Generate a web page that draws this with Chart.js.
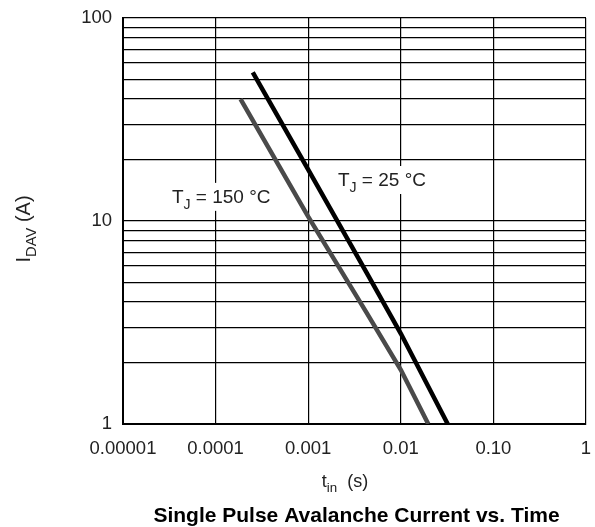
<!DOCTYPE html>
<html>
<head>
<meta charset="utf-8">
<script src="https://cdn.jsdelivr.net/npm/chart.js@4.4.0/dist/chart.umd.min.js"></script>
<style>
  html, body { margin: 0; padding: 0; background: #fff; }
  #wrap { width: 595px; height: 527px; position: relative; }
</style>
</head>
<body>
<div id="wrap"><canvas id="chart"></canvas></div>
<script>
// axis ticks
const xTicks = [0.00001, 0.0001, 0.001, 0.01, 0.1, 1];
const xTickLabels = ["0.00001", "0.0001", "0.001", "0.01", "0.10", "1"];
const yGrid = [1, 2, 3, 4, 5, 6, 7, 8, 9, 10, 20, 30, 40, 50, 60, 70, 80, 90, 100];
const yTickLabels = { 1: "1", 10: "10", 100: "100" };

// curves (t in s, I in A)
const tin25 = [0.000252, 0.001, 0.00433, 0.01, 0.0321];
const idav25 = [54, 17.9, 5.5, 2.79, 1.0];
const tin150 = [0.000186, 0.001, 0.00433, 0.01, 0.0198];
const idav150 = [39.8, 10.5, 3.5, 1.85, 1.0];

// curve labels, placed in data units
const curveLabels = [
  { x: 0.00626, y: 16.1, main: "T", sub: "J", rest: " = 25 °C" },
  { x: 0.000115, y: 13.3, main: "T", sub: "J", rest: " = 150 °C" }
];

const FONT = '"Liberation Sans", Arial, Helvetica, sans-serif';
const TXT = '#222';
const SUB = 0.74;

function subWidth(ctx, main, sub, rest, size) {
  ctx.font = size + 'px ' + FONT;
  const w1 = ctx.measureText(main).width, w3 = ctx.measureText(rest).width;
  ctx.font = (size * SUB) + 'px ' + FONT;
  const w2 = ctx.measureText(sub).width;
  return w1 + w2 + w3;
}
// main text + subscript + rest, from x on baseline y
function drawSub(ctx, main, sub, rest, x, y, size) {
  ctx.textAlign = 'left';
  ctx.textBaseline = 'alphabetic';
  ctx.font = size + 'px ' + FONT;
  ctx.fillText(main, x, y);
  x += ctx.measureText(main).width;
  ctx.font = (size * SUB) + 'px ' + FONT;
  ctx.fillText(sub, x, y + size * 0.3);
  x += ctx.measureText(sub).width;
  ctx.font = size + 'px ' + FONT;
  ctx.fillText(rest, x, y);
}

const textPlugin = {
  id: 'texts',
  beforeDatasetsDraw(chart) {
    const ctx = chart.ctx, xs = chart.scales.x, ys = chart.scales.y;
    ctx.save();
    curveLabels.forEach(l => {
      const size = 19;
      const w = subWidth(ctx, l.main, l.sub, l.rest, size);
      const cx = xs.getPixelForValue(l.x), cy = ys.getPixelForValue(l.y);
      ctx.fillStyle = '#fff';
      ctx.fillRect(cx - w / 2 - 3, cy - 13, w + 6, 28);
      ctx.fillStyle = TXT;
      drawSub(ctx, l.main, l.sub, l.rest, cx - w / 2, cy + 7, size);
    });
    ctx.restore();
  },
  afterDraw(chart) {
    const ctx = chart.ctx, a = chart.chartArea;
    ctx.save();
    ctx.fillStyle = TXT;
    // x axis title
    let w = subWidth(ctx, 't', 'in', '  (s)', 18);
    drawSub(ctx, 't', 'in', '  (s)', 345 - w / 2, 487, 18);
    // y axis title, rotated
    ctx.save();
    ctx.translate(30, 229);
    ctx.rotate(-Math.PI / 2);
    w = subWidth(ctx, 'I', 'DAV', ' (A)', 20);
    drawSub(ctx, 'I', 'DAV', ' (A)', -w / 2, 0, 20);
    ctx.restore();
    // chart title
    ctx.fillStyle = '#000';
    ctx.font = 'bold 21px ' + FONT;
    ctx.textAlign = 'center';
    ctx.textBaseline = 'alphabetic';
    ctx.fillText('Single Pulse Avalanche Current vs. Time', (a.left + a.right) / 2 + 2, 522);
    ctx.restore();
  }
};

new Chart(document.getElementById('chart'), {
  type: 'line',
  data: {
    datasets: [
      {
        label: 'TJ = 25 °C',
        data: tin25.map((t, i) => ({ x: t, y: idav25[i] })),
        borderColor: '#000',
        borderWidth: 4.5,
        pointRadius: 0,
        tension: 0
      },
      {
        label: 'TJ = 150 °C',
        data: tin150.map((t, i) => ({ x: t, y: idav150[i] })),
        borderColor: '#4a4a4a',
        borderWidth: 4.5,
        pointRadius: 0,
        tension: 0
      }
    ]
  },
  options: {
    responsive: true,
    maintainAspectRatio: false,
    animation: false,
    layout: { padding: { top: 18, right: 9, left: 0, bottom: 0 } },
    plugins: { legend: { display: false }, tooltip: { enabled: false } },
    scales: {
      x: {
        type: 'logarithmic',
        min: 0.00001,
        max: 1,
        afterBuildTicks: s => { s.ticks = xTicks.map(v => ({ value: v })); },
        afterFit: s => { s.height = 103; s.paddingLeft = 0; s.paddingRight = 0; },
        grid: { color: '#000', lineWidth: 1.2, drawTicks: false },
        border: { color: '#000', width: 2 },
        ticks: {
          autoSkip: false, maxRotation: 0, padding: 14, color: TXT,
          font: { family: FONT, size: 18.5 },
          callback: (v, i) => xTickLabels[i]
        }
      },
      y: {
        type: 'logarithmic',
        min: 1,
        max: 100,
        afterBuildTicks: s => { s.ticks = yGrid.map(v => ({ value: v })); },
        afterFit: s => { s.width = 123; s.paddingTop = 0; s.paddingBottom = 0; },
        grid: { color: '#000', lineWidth: 1.2, drawTicks: false },
        border: { color: '#000', width: 2 },
        ticks: {
          autoSkip: false, padding: 11, color: TXT,
          font: { family: FONT, size: 18.5 },
          callback: v => yTickLabels[v] ?? ''
        }
      }
    }
  },
  plugins: [textPlugin]
});
</script>
</body>
</html>
